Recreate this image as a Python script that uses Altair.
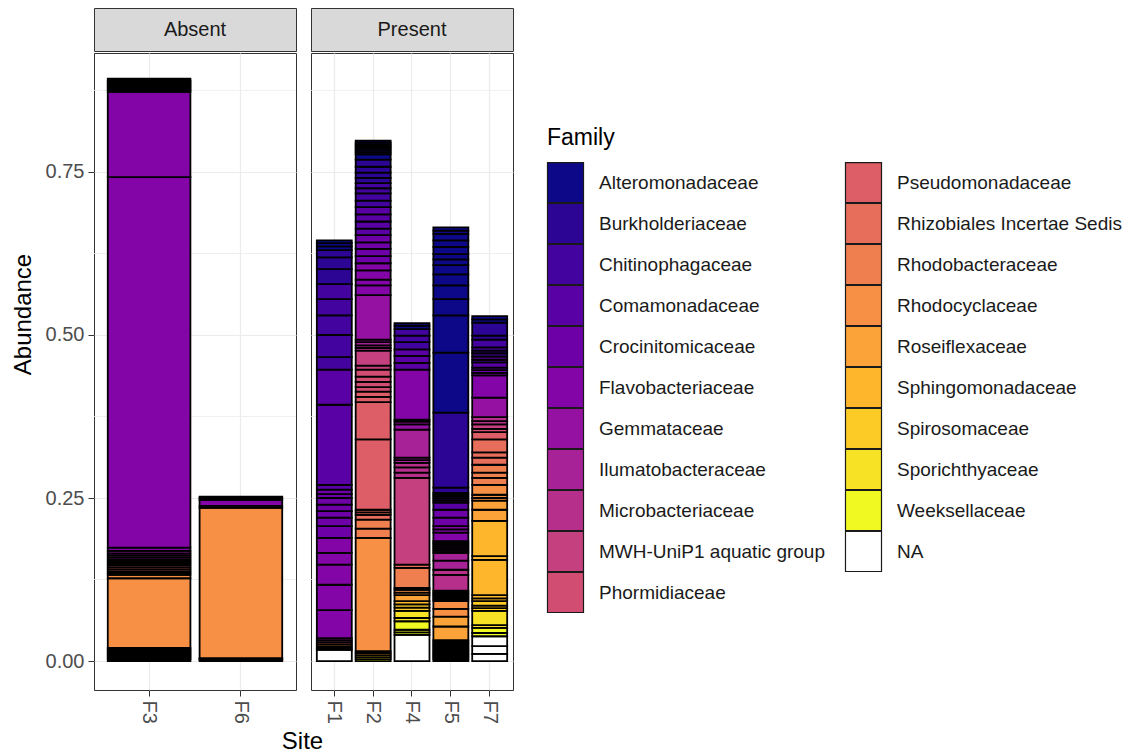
import altair as alt
import pandas as pd

FAMILIES = [
    "Alteromonadaceae", "Burkholderiaceae", "Chitinophagaceae", "Comamonadaceae",
    "Crocinitomicaceae", "Flavobacteriaceae", "Gemmataceae", "Ilumatobacteraceae",
    "Microbacteriaceae", "MWH-UniP1 aquatic group", "Phormidiaceae", "Pseudomonadaceae",
    "Rhizobiales Incertae Sedis", "Rhodobacteraceae", "Rhodocyclaceae", "Roseiflexaceae",
    "Sphingomonadaceae", "Spirosomaceae", "Sporichthyaceae", "Weeksellaceae", "NA",
]
COLORS = [
    "#0D0887", "#2C0594", "#43039E", "#5901A5", "#6E00A8", "#8305A7", "#9511A1",
    "#A72197", "#B6308B", "#C5407E", "#D14E72", "#DD5E66", "#E76E5B", "#EF7F4F",
    "#F79044", "#FBA238", "#FEB72D", "#FDCB26", "#F7E225", "#F0F921", "#FFFFFF",
]

ABSENT_SITES = ["F3", "F6"]
PRESENT_SITES = ["F1", "F2", "F4", "F5", "F7"]
Y_TICKS = [0.0, 0.25, 0.50, 0.75]
Y_MINOR = [0.125, 0.375, 0.625, 0.875]

# segments listed bottom -> top : family index, abundance
F3_FAM = [19, 19, 18, 18, 17, 17, 16, 15, 14, 14,
          13, 13, 12, 12, 11, 10, 9, 8, 7, 7, 6, 6,
          5, 5, 5, 4, 4, 3, 3, 2, 2, 1, 0]
F3_AB = [0.0025, 0.0025, 0.0025, 0.0025, 0.0025, 0.0025, 0.0025, 0.0025, 0.107, 0.005,
         0.003, 0.003, 0.003, 0.003, 0.003, 0.003, 0.003, 0.003, 0.003, 0.003, 0.003, 0.004,
         0.005, 0.568, 0.131, 0.0025, 0.0025, 0.0025, 0.0025, 0.0025, 0.0025, 0.0025, 0.0025]

F6_FAM = [19, 17, 16, 14, 6, 5, 5, 3]
F6_AB = [0.0015, 0.0015, 0.0015, 0.2305, 0.003, 0.009, 0.003, 0.002]

F1_FAM = [20, 18, 16, 14, 12, 8, 6, 5, 5, 5, 5, 5, 4, 4, 4, 4, 4, 4, 4,
          3, 3, 3, 2, 2, 2, 2, 2, 1, 1, 1, 0, 0, 0]
F1_AB = [0.017, 0.003, 0.003, 0.003, 0.003, 0.003, 0.003,
         0.043, 0.039, 0.031, 0.018, 0.023,
         0.018, 0.013, 0.010, 0.010, 0.010, 0.006, 0.007,
         0.007, 0.123, 0.054,
         0.019, 0.034, 0.030, 0.025, 0.023,
         0.023, 0.018, 0.011,
         0.006, 0.005, 0.004]

F2_FAM = [19, 18, 17, 16, 15, 14, 13, 13, 12, 12, 12, 11, 11, 11, 11, 10, 10, 10, 10,
          9, 9, 8, 7, 7, 6, 6, 5, 5, 5, 5, 4, 4, 4, 4, 3, 3, 3, 3, 2, 2, 2, 2,
          1, 1, 1, 1, 0, 0, 0, 0, 0, 0, 0, 0]
F2_AB = [0.003, 0.003, 0.003, 0.003, 0.003, 0.174, 0.014, 0.014, 0.007, 0.004, 0.004,
         0.108, 0.057, 0.008, 0.008, 0.007, 0.008, 0.008, 0.011,
         0.006, 0.023, 0.004, 0.004, 0.005, 0.004, 0.068,
         0.015, 0.009, 0.014, 0.011, 0.011, 0.011, 0.010, 0.011,
         0.010, 0.011, 0.011, 0.011, 0.010, 0.011, 0.008, 0.008,
         0.008, 0.008, 0.009, 0.011, 0.008, 0.003, 0.003, 0.003, 0.003, 0.003, 0.003, 0.003]

F4_FAM = [20, 19, 19, 19, 18, 18, 17, 17, 16, 15, 14, 14, 13, 13, 12, 9, 8, 8, 8,
          7, 7, 7, 6, 6, 6, 5, 3, 3, 3, 2, 2, 2, 0, 0]
F4_AB = [0.040, 0.004, 0.004, 0.013, 0.005, 0.011, 0.005, 0.005, 0.005, 0.009,
         0.004, 0.004, 0.003, 0.031, 0.005, 0.133, 0.008, 0.008, 0.007,
         0.004, 0.004, 0.043, 0.008, 0.004, 0.003, 0.077,
         0.010, 0.011, 0.010, 0.011, 0.010, 0.010, 0.005, 0.004]

F5_FAM = [19, 19, 19, 18, 18, 18, 17, 17, 17, 16, 16, 16,
          15, 15, 14, 14, 13, 13, 12, 11, 10, 9,
          8, 8, 7, 7, 6, 6, 6, 6, 6, 6, 5, 5, 5, 4, 4,
          3, 3, 3, 2, 2, 2, 1, 1,
          0, 0, 0, 0, 0, 0, 0, 0, 0, 0, 0, 0, 0]
F5_AB = [0.0027, 0.0027, 0.0027, 0.0027, 0.0027, 0.0027, 0.0027, 0.0027, 0.0027,
         0.0027, 0.0027, 0.0023,
         0.021, 0.015, 0.012, 0.012, 0.0027, 0.0027, 0.0027, 0.0027, 0.0027, 0.0025,
         0.024, 0.008, 0.014, 0.012, 0.003, 0.003, 0.003, 0.003, 0.003, 0.003,
         0.013, 0.005, 0.005, 0.013, 0.012,
         0.011, 0.003, 0.003, 0.003, 0.003, 0.003, 0.008, 0.115,
         0.092, 0.057, 0.025, 0.021, 0.017, 0.014, 0.009, 0.008, 0.011, 0.010,
         0.010, 0.005, 0.005]

F7_FAM = [20, 20, 20, 19, 19, 18, 18, 17, 17, 17, 16, 16, 16, 16, 16, 15, 15,
          14, 14, 14, 13, 13, 13, 12, 12, 12, 11, 10, 9, 8, 8, 6, 5, 4, 4, 4,
          3, 3, 3, 2, 2, 2, 2, 1, 1, 0, 0]
F7_AB = [0.011, 0.012, 0.015, 0.005, 0.008, 0.004, 0.022, 0.004, 0.004, 0.007,
         0.004, 0.005, 0.054, 0.006, 0.054, 0.017, 0.014,
         0.004, 0.005, 0.015, 0.011, 0.008, 0.012, 0.011, 0.008, 0.020,
         0.011, 0.005, 0.007, 0.005, 0.006, 0.030, 0.034, 0.004, 0.004, 0.004,
         0.008, 0.004, 0.005, 0.005, 0.004, 0.005, 0.012, 0.006, 0.020, 0.005, 0.005]

SITE_DATA = {
    "F3": (F3_FAM, F3_AB), "F6": (F6_FAM, F6_AB),
    "F1": (F1_FAM, F1_AB), "F2": (F2_FAM, F2_AB), "F4": (F4_FAM, F4_AB),
    "F5": (F5_FAM, F5_AB), "F7": (F7_FAM, F7_AB),
}

rows = []
for site, (fams, vals) in SITE_DATA.items():
    grp = "Absent" if site in ABSENT_SITES else "Present"
    for i, (f, v) in enumerate(zip(fams, vals)):
        rows.append({"Site": site, "Group": grp, "Family": FAMILIES[f],
                     "Abundance": v, "ord": i})
df = pd.DataFrame(rows)

FONT = "Liberation Sans"
PW, PH, HH = 202, 637, 43
yscale = alt.Scale(domain=[-0.0444, 0.9324], nice=False, zero=False)

color = alt.Color(
    "Family:N",
    scale=alt.Scale(domain=FAMILIES, range=COLORS),
    legend=alt.Legend(
        title="Family", orient="none", legendX=453, legendY=119,
        columns=2, columnPadding=18, rowPadding=-5.3,
        symbolType="M-1.029,-1.143H1.029V1.143H-1.029Z", symbolSize=1225,
        symbolStrokeColor="#1A1A1A", symbolStrokeWidth=1.2, symbolOpacity=1,
        labelFont=FONT, labelFontSize=19, labelColor="#1A1A1A", labelLimit=400,
        labelOffset=15, titleFont=FONT, titleFontSize=23, titleFontWeight="normal",
        titleColor="black", titlePadding=14, padding=0,
    ),
)


def panel(group, sites, first):
    sub = df[df.Group == group]
    if first:
        yaxis = alt.Axis(values=Y_TICKS, format=".2f", title="Abundance", grid=True,
                         titleY=261)
    else:
        yaxis = alt.Axis(values=Y_TICKS, labels=False, ticks=False, title=None, grid=True)
    xaxis = alt.Axis(title=None, labelAngle=90, grid=True, bandPosition=0.5)
    minor = alt.Chart(pd.DataFrame({"Abundance": Y_MINOR})).mark_rule(
        color="#EBEBEB", strokeWidth=0.8
    ).encode(y=alt.Y("Abundance:Q", scale=yscale, axis=yaxis))
    bars = alt.Chart(sub).mark_bar(stroke="black", strokeWidth=1.8).encode(
        x=alt.X("Site:N", sort=sites,
                scale=alt.Scale(paddingInner=0.1, paddingOuter=0.15), axis=xaxis),
        y=alt.Y("Abundance:Q", stack="zero", scale=yscale, axis=yaxis),
        color=color,
        order=alt.Order("ord:Q", sort="ascending"),
    )
    body = alt.layer(minor, bars).properties(width=PW, height=PH)
    head = alt.Chart(pd.DataFrame({"label": [group]})).mark_text(
        font=FONT, fontSize=20, color="#1A1A1A", baseline="middle"
    ).encode(
        x=alt.X("label:N", axis=None),
        text="label:N",
    ).properties(width=PW, height=HH,
                 view=alt.ViewBackground(fill="#D9D9D9", stroke="#333333"))
    return alt.vconcat(head, body, spacing=0)


chart = alt.hconcat(
    panel("Absent", ABSENT_SITES, True),
    panel("Present", PRESENT_SITES, False),
    spacing=13,
).properties(
    title=alt.Title("Site", orient="bottom", anchor="middle", frame="group",
                    font=FONT, fontSize=24, fontWeight="normal", color="black",
                    offset=6, dx=208.5),
    padding={"left": 2, "top": -1, "right": 0, "bottom": 0},
    background="white",
).configure_axis(
    labelFont=FONT, titleFont=FONT, labelFontSize=20, titleFontSize=24,
    titleFontWeight="normal", labelColor="#4D4D4D", titleColor="black",
    tickColor="#333333", tickSize=6, domain=False, gridColor="#EBEBEB",
    gridWidth=1.2, labelPadding=4, titlePadding=10,
).configure_view(
    stroke="#333333", strokeWidth=1
)

chart.save("out.html", embed_options={"renderer": "svg", "actions": False})
